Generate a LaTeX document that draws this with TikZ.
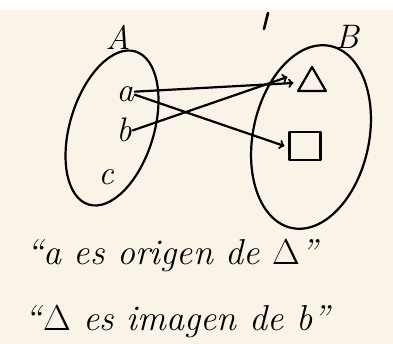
\documentclass[tikz,border=0pt]{standalone}
\usetikzlibrary{shapes.geometric}
\definecolor{paper}{HTML}{FAF3E8}
\tikzset{
    pen/.style={line width=2.2pt, line cap=round, line join=round},
    elem/.style={font=\fontsize{34}{34}\selectfont\itshape, anchor=base, inner sep=1pt},
    hand/.style={font=\fontsize{36}{38}\selectfont\itshape, anchor=base west, inner sep=0pt}
}
\begin{document}
\begin{tikzpicture}[x=1pt, y=-1pt, >=to]
    \useasboundingbox (0,0) rectangle (393,344);
    \fill[paper] (0,10) rectangle (393,344);

    % the two sets
    \draw[pen] (112,128) ellipse[x radius=42pt, y radius=80pt, rotate=-17];
    \draw[pen] (311,137) ellipse[x radius=58pt, y radius=93pt, rotate=-12];
    \node[elem] (setA) at (118,50) {A};
    \node[elem] (setB) at (347,49) {B};
    \draw[pen, line width=2.6pt] (268,13) -- (264,29);

    % elements of A
    \node[elem] (a) at (125,102) {a};
    \node[elem] (b) at (124,142) {b};
    \node[elem] (c) at (106,185) {c};

    % elements of B
    \node[pen, draw, regular polygon, regular polygon sides=3, minimum size=32pt, inner sep=0pt] (tri) at (312,83) {};
    \node[pen, draw, minimum width=31pt, minimum height=28pt, inner sep=0pt] (sq) at (305,146) {};

    % the arrows
    \draw[pen, ->] ([yshift=3pt]a.east) -- ([xshift=-8pt]tri.west);
    \draw[pen, ->] (a.east) -- ([xshift=-4pt]sq.west);
    \draw[pen, ->] (b.east) -- ([xshift=-14pt, yshift=6pt]tri.west);

    % the two sentences
    \node[hand] (line1) at (26,265) {``a es origen de \textup{Δ}''};
    \node[hand] (line2) at (24,330) {``\textup{Δ} es imagen de b''};
\end{tikzpicture}
\end{document}
